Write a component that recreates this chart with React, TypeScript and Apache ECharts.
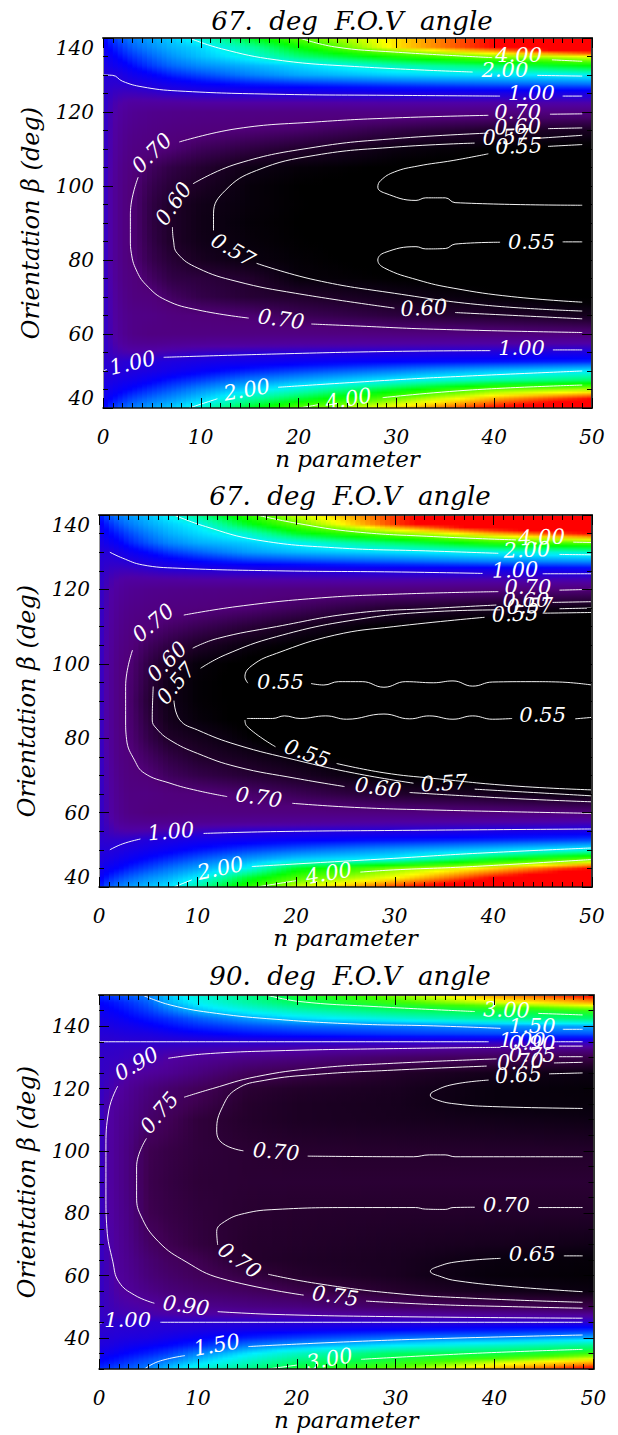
import React, { useEffect, useRef } from "react";
import * as echarts from "echarts";

// ---- shared columns of the colour field (n parameter) ----
const nColumns = [0, 1, 2, 3, 5, 7, 10, 15, 20, 30, 40, 50];

// ---- panel 1: 67 deg ----
const title1 = "67.  deg  F.O.V  angle";
const betas1 = [40, 42.5, 45, 47.5, 50, 52.5, 55, 57.5, 60, 65, 70, 75, 80, 85, 90, 95, 100, 105, 110, 115, 120, 122.5, 125, 127.5, 130, 132.5, 135, 137.5, 140];
const field1 = [
  [1.2, 1.35, 1.45, 1.55, 1.7, 1.85, 2.2, 3, 4, 5.2, 7, 9],
  [1.12, 1.22, 1.3, 1.38, 1.5, 1.62, 1.85, 2.4, 2.9, 4.1, 5.6, 7],
  [1.07, 1.12, 1.17, 1.22, 1.32, 1.42, 1.6, 1.9, 2.2, 3, 4.1, 4.5],
  [1.03, 1.05, 1.08, 1.1, 1.17, 1.25, 1.35, 1.55, 1.7, 2.02, 2.4, 2.7],
  [1, 1, 1.01, 1.02, 1.05, 1.1, 1.17, 1.28, 1.37, 1.55, 1.8, 2],
  [0.98, 0.96, 0.98, 1, 1.01, 1.03, 1.06, 1.1, 1.14, 1.2, 1.25, 1.3],
  [0.97, 0.91, 0.88, 0.87, 0.88, 0.9, 0.93, 0.97, 0.99, 1.01, 1.03, 1.05],
  [0.97, 0.88, 0.82, 0.79, 0.78, 0.79, 0.8, 0.81, 0.82, 0.83, 0.84, 0.85],
  [0.97, 0.86, 0.79, 0.75, 0.73, 0.73, 0.73, 0.73, 0.73, 0.72, 0.715, 0.705],
  [0.97, 0.85, 0.78, 0.75, 0.74, 0.72, 0.705, 0.69, 0.655, 0.625, 0.603, 0.585],
  [0.97, 0.84, 0.76, 0.725, 0.71, 0.67, 0.64, 0.615, 0.605, 0.58, 0.56, 0.545],
  [0.97, 0.83, 0.745, 0.72, 0.67, 0.635, 0.625, 0.605, 0.565, 0.555, 0.545, 0.54],
  [0.97, 0.82, 0.74, 0.7, 0.645, 0.615, 0.59, 0.57, 0.56, 0.548, 0.54, 0.54],
  [0.97, 0.82, 0.735, 0.695, 0.635, 0.6, 0.58, 0.565, 0.556, 0.55, 0.55, 0.55],
  [0.97, 0.82, 0.735, 0.695, 0.63, 0.6, 0.578, 0.562, 0.555, 0.552, 0.551, 0.551],
  [0.97, 0.82, 0.735, 0.695, 0.632, 0.6, 0.58, 0.565, 0.556, 0.55, 0.55, 0.55],
  [0.97, 0.82, 0.74, 0.7, 0.645, 0.617, 0.595, 0.565, 0.555, 0.548, 0.54, 0.54],
  [0.97, 0.83, 0.75, 0.715, 0.665, 0.635, 0.61, 0.575, 0.563, 0.552, 0.545, 0.54],
  [0.97, 0.84, 0.77, 0.735, 0.715, 0.695, 0.66, 0.63, 0.605, 0.57, 0.555, 0.545],
  [0.97, 0.85, 0.79, 0.76, 0.74, 0.725, 0.715, 0.695, 0.68, 0.635, 0.6, 0.59],
  [0.97, 0.87, 0.82, 0.79, 0.77, 0.76, 0.75, 0.745, 0.74, 0.74, 0.73, 0.72],
  [0.98, 0.89, 0.85, 0.83, 0.83, 0.83, 0.84, 0.85, 0.85, 0.86, 0.86, 0.87],
  [0.98, 0.93, 0.91, 0.91, 0.93, 0.96, 0.985, 1, 1.02, 1.04, 1.05, 1.06],
  [0.99, 0.97, 0.98, 1, 1.05, 1.1, 1.17, 1.25, 1.3, 1.38, 1.45, 1.5],
  [1, 1, 1.05, 1.1, 1.18, 1.28, 1.38, 1.55, 1.7, 1.87, 1.95, 2.05],
  [1.05, 1.1, 1.15, 1.22, 1.35, 1.47, 1.6, 1.75, 1.9, 2.3, 2.7, 3.2],
  [1.1, 1.17, 1.25, 1.33, 1.47, 1.62, 1.8, 2.1, 2.6, 3.4, 4.3, 5],
  [1.15, 1.25, 1.35, 1.45, 1.6, 1.75, 1.9, 2.4, 3.2, 5.2, 7, 10],
  [1.2, 1.35, 1.45, 1.55, 1.7, 1.85, 2.2, 3, 4, 5.2, 7, 9],
];
const contours1 = [
  [[20.1, 140], [23.7, 137.6], [29.8, 136.2], [39.8, 134.7]],
  [[45.9, 134.1], [49, 133.7]],
  [[8.8, 140], [12.1, 137.1], [17.7, 134.1], [25.7, 132.3], [37.8, 130.8]],
  [[44.4, 129.9], [49, 129.7]],
  [[0, 130], [1, 129.9], [2, 128.3], [4, 126.8], [7.6, 125.7], [17.7, 124.8], [29.8, 124.5], [40.6, 124.3]],
  [[47, 124.3], [49, 124.3]],
  [[45.7, 119.4], [49, 119.5]],
  [[39.4, 119.1], [29.8, 118.4], [21.7, 117.3], [13.7, 115.5], [7.8, 111.9]],
  [[3.6, 102.4], [2.8, 92.5], [2.8, 85.4], [2.9, 81.8], [3.4, 77.3], [4.4, 73.3], [6.4, 69.2], [9.7, 66.5], [14.9, 64.3]],
  [[21.3, 62.7], [25.7, 62.2], [33.8, 61.3], [49, 60.4]],
  [[45.5, 115.5], [49, 115.7]],
  [[39.4, 114.3], [29.8, 112.8], [21.7, 110.5], [13.7, 106], [9.2, 100.6]],
  [[7.1, 88.9], [7.2, 85.4], [7.6, 81.8], [9.7, 77.8], [13.7, 74.2], [19.7, 71], [29.8, 67]],
  [[36, 65.8], [49, 64.1]],
  [[44.5, 112.9], [49, 113.7]],
  [[38, 111.6], [29.8, 110.5], [21.7, 108.3], [15.7, 104.2], [12.5, 98.8], [11.3, 92.5], [11.3, 88]],
  [[15.7, 79.1], [21.7, 74.6], [29.8, 71], [39, 67.8], [49, 66.2]],
  [[45.5, 110.7], [49, 111.2]],
  [[39.4, 108.7], [35.8, 106.9], [32.2, 105.4], [29.8, 103.8], [28.4, 101.5], [28.1, 99.7], [28.8, 98.1], [32, 96.1], [33, 96.8], [35, 96.8], [36, 95.5], [49, 94.8]],
  [[47, 84.9], [49, 84.9]],
  [[40.6, 84.8], [36, 84.3], [35, 83.1], [33, 83], [32, 83.6], [28.8, 82], [28.1, 80], [28.8, 77.8], [32.2, 74.6], [35.8, 72.4], [41.8, 70.1], [49, 68.6]],
  [[46, 55.7], [49, 55.7]],
  [[39.6, 55.5], [29.8, 55.3], [17.7, 54.6], [6.2, 53.7]],
  [[0, 50], [0.4, 50.4]],
  [[49, 50], [37.8, 48.7], [29.8, 47.6], [17.9, 45.6]],
  [[11.7, 42.5], [8.8, 40]],
  [[49, 46.2], [37.8, 44.9], [28.6, 42.8]],
  [[22, 40.9], [20.1, 40]],
];
const labels1: [number, number, string, number][] = [
  [42.5, 135.4, "4.00", 0], [41.1, 131.3, "2.00", 0], [43.8, 125.1, "1.00", 0], [42.4, 120, "0.70", 0],
  [42.4, 116, "0.60", 2], [41.2, 113.2, "0.57", 2], [42.5, 110.8, "0.55", 2],
  [5, 108.9, "0.70", 45], [7.2, 95.2, "0.60", 55], [13.3, 82.7, "0.57", -30], [43.8, 85, "0.55", 0],
  [18.2, 64, "0.70", -8], [32.8, 67, "0.60", 3], [42.8, 56.2, "1.00", 0], [3, 52.2, "1.00", 13],
  [14.7, 44.9, "2.00", 10], [25.1, 42.4, "4.00", 10],
];

// ---- panel 2: 67 deg ----
const title2 = "67.  deg  F.O.V  angle";
const betas2 = betas1;
const field2 = [
  [1.25, 1.45, 1.55, 1.65, 1.8, 1.95, 2.4, 3.5, 4.7, 6.5, 9, 12],
  [1.15, 1.28, 1.37, 1.45, 1.6, 1.72, 2, 2.9, 3.8, 5, 7, 9],
  [1.08, 1.15, 1.2, 1.27, 1.38, 1.5, 1.68, 2.05, 3, 4.2, 5.3, 7],
  [1.03, 1.06, 1.1, 1.14, 1.22, 1.3, 1.43, 1.65, 1.85, 2.05, 3, 4],
  [1, 1, 1.02, 1.05, 1.1, 1.15, 1.23, 1.35, 1.45, 1.65, 1.85, 2.1],
  [0.98, 0.96, 0.97, 0.98, 1.02, 1.05, 1.09, 1.14, 1.18, 1.25, 1.32, 1.4],
  [0.97, 0.91, 0.87, 0.86, 0.87, 0.89, 0.93, 0.98, 0.998, 1.01, 1.05, 1.07],
  [0.97, 0.88, 0.81, 0.78, 0.77, 0.77, 0.78, 0.79, 0.8, 0.83, 0.85, 0.87],
  [0.97, 0.86, 0.78, 0.74, 0.72, 0.72, 0.725, 0.725, 0.725, 0.72, 0.71, 0.7],
  [0.97, 0.85, 0.77, 0.73, 0.73, 0.715, 0.705, 0.685, 0.655, 0.605, 0.585, 0.564],
  [0.97, 0.84, 0.755, 0.72, 0.7, 0.665, 0.64, 0.615, 0.595, 0.55, 0.54, 0.53],
  [0.97, 0.83, 0.74, 0.71, 0.67, 0.635, 0.605, 0.585, 0.565, 0.535, 0.52, 0.515],
  [0.97, 0.82, 0.735, 0.7, 0.64, 0.6, 0.585, 0.56, 0.53, 0.52, 0.51, 0.51],
  [0.97, 0.82, 0.73, 0.695, 0.625, 0.585, 0.565, 0.55, 0.54, 0.54, 0.54, 0.54],
  [0.97, 0.82, 0.73, 0.69, 0.615, 0.58, 0.56, 0.552, 0.552, 0.552, 0.552, 0.552],
  [0.97, 0.82, 0.73, 0.695, 0.625, 0.58, 0.56, 0.55, 0.54, 0.54, 0.54, 0.54],
  [0.97, 0.82, 0.735, 0.7, 0.635, 0.595, 0.565, 0.55, 0.53, 0.52, 0.51, 0.51],
  [0.97, 0.83, 0.75, 0.715, 0.665, 0.635, 0.6, 0.57, 0.555, 0.53, 0.52, 0.515],
  [0.97, 0.84, 0.77, 0.735, 0.705, 0.68, 0.655, 0.62, 0.59, 0.55, 0.535, 0.525],
  [0.97, 0.85, 0.79, 0.76, 0.74, 0.725, 0.715, 0.695, 0.665, 0.61, 0.59, 0.57],
  [0.97, 0.87, 0.82, 0.79, 0.77, 0.76, 0.75, 0.74, 0.73, 0.72, 0.71, 0.7],
  [0.98, 0.89, 0.85, 0.83, 0.83, 0.83, 0.84, 0.85, 0.86, 0.87, 0.87, 0.88],
  [0.98, 0.93, 0.91, 0.91, 0.94, 0.97, 0.985, 0.995, 1, 1.04, 1.06, 1.09],
  [0.99, 0.97, 0.98, 1, 1.06, 1.12, 1.2, 1.3, 1.35, 1.45, 1.55, 1.6],
  [1, 1, 1.06, 1.12, 1.22, 1.33, 1.45, 1.65, 1.77, 1.93, 2.1, 2.25],
  [1.05, 1.12, 1.18, 1.27, 1.42, 1.57, 1.72, 1.85, 2.05, 2.7, 3.5, 4],
  [1.1, 1.2, 1.28, 1.38, 1.55, 1.72, 1.9, 2.2, 3, 4.2, 5.6, 7],
  [1.15, 1.3, 1.42, 1.52, 1.7, 1.85, 2.05, 3, 4, 6.5, 9, 11],
  [1.25, 1.45, 1.55, 1.65, 1.8, 2.03, 2.5, 3.6, 4.7, 6.5, 9, 12],
];
const contours2 = [
  [[16, 140], [20, 137.8], [25.9, 135.5], [33.9, 134.2], [42.3, 133.3]],
  [[48.1, 132.7], [50, 132.6]],
  [[7.6, 140], [10.8, 136.9], [16, 133.3], [23.9, 131.2], [33.9, 130.3], [40.5, 129.7]],
  [[46.7, 129.4], [50, 129.3]],
  [[1.1, 130], [2.4, 128.4], [4.4, 126.6], [8, 125.7], [18, 125], [29.9, 124.7], [38.9, 124.3]],
  [[45, 124.2], [50, 124.2]],
  [[46.7, 119.8], [50, 120]],
  [[40.5, 119.4], [29.9, 118.7], [21.9, 117.6], [14, 115.4], [8.6, 113.1]],
  [[3.4, 103.7], [2.7, 93.9], [2.7, 84.9], [2.8, 79.6], [3.6, 74.1], [4.6, 70.6], [7.2, 67.9], [10, 65.9], [13, 64.3]],
  [[19.6, 62.5], [25.9, 61.4], [33.9, 60.7], [50, 59.8]],
  [[46, 116.5], [50, 116.7]],
  [[40.3, 115.8], [33.9, 114.9], [25.9, 113.6], [18, 110], [12, 106.8], [9.5, 104.2]],
  [[5.5, 93.9], [5.4, 84.9], [5.8, 82.7], [7.2, 79.5], [10, 75.9], [14, 72.3], [20, 69.2], [24.9, 67]],
  [[31.5, 65.4], [41.9, 63.8], [50, 62.9]],
  [[46.7, 114.8], [50, 115]],
  [[40.7, 114.5], [33.9, 114], [25.9, 111.8], [18, 107.3], [12.8, 102.4], [10.3, 98.8]],
  [[7.6, 90.1], [8.2, 84.9], [10, 82.2], [14, 78.2], [20, 74.1], [25.9, 70.6], [31.9, 67.9]],
  [[38.1, 66.3], [50, 64.5]],
  [[45, 113.6], [50, 113.8]],
  [[39.1, 112.5], [29.9, 110], [23.9, 107.7], [18, 102.8], [15.6, 99.7], [14.8, 96.5], [15.1, 94.8]],
  [[21.5, 94.7], [22.8, 94.3], [24.3, 95.2], [26.7, 95.2], [28.9, 93.7], [31.1, 95.2], [33.9, 94.9], [35.9, 95.4], [37.9, 94], [39.9, 95.1], [43.9, 95.2], [46.7, 95.1], [50, 94.3]],
  [[15, 85.3], [17.6, 85.3], [18.8, 86], [20.4, 85.3], [23, 86], [25.1, 85.1], [28.9, 86.5], [31.5, 85.2], [33.5, 86], [35.9, 85.1], [37.9, 86], [39.9, 85.1], [41.9, 85.3]],
  [[48.3, 85.2], [50, 85.6]],
  [[14.8, 84.9], [15, 83.2], [17.9, 77.7]],
  [[24.1, 73.2], [28.9, 70.7], [33.9, 69.2], [41.9, 67.2], [50, 66.1]],
  [[50, 55.6], [29.9, 55.2], [18, 54.9], [10.6, 54.4]],
  [[4.2, 52.9], [2.4, 51.6], [1.1, 50]],
  [[50, 50.5], [37.9, 49], [29.9, 47.7], [23.9, 46.8], [15.5, 45.5]],
  [[9.4, 41.9], [7.6, 40]],
  [[50, 47.4], [37.9, 45.5], [29.9, 44.6], [26.5, 44]],
  [[20, 41.7], [16, 40]],
];
const labels2: [number, number, string, number][] = [
  [44.9, 134, "4.00", 2], [43.4, 130.6, "2.00", 2], [42.2, 125.2, "1.00", 2], [43.5, 120.6, "0.70", 0],
  [43.3, 117.2, "0.60", 0], [43.7, 115.5, "0.57", 2], [42.2, 113.4, "0.55", 2],
  [5.5, 111, "0.70", 40], [6.9, 100.6, "0.60", 45], [7.8, 94.7, "0.57", 50], [18.4, 95, "0.55", 0],
  [45, 86.2, "0.55", 0], [21.1, 75.9, "0.55", -20], [28.3, 66.7, "0.60", -8], [35, 67.9, "0.57", 3],
  [16.2, 64.1, "0.70", -8], [7.3, 54.9, "1.00", 5], [12.3, 45, "2.00", 12], [23.3, 43.7, "4.00", 10],
];

// ---- panel 3: 90 deg ----
const title3 = "90.  deg  F.O.V  angle";
const betas3 = [30, 32.5, 35, 37.5, 40, 42.5, 45, 47.5, 50, 55, 60, 65, 70, 80, 90, 100, 110, 115, 120, 125, 130, 132.5, 135, 137.5, 140, 142.5, 145, 147.5, 150];
const field3 = [
  [1.25, 1.3, 1.35, 1.4, 1.52, 1.75, 2.1, 2.6, 3.3, 3.9, 5, 6.2],
  [1.15, 1.18, 1.22, 1.27, 1.37, 1.5, 1.75, 2.2, 2.7, 3.3, 4.1, 4.8],
  [1.08, 1.1, 1.13, 1.16, 1.22, 1.3, 1.5, 1.85, 2.2, 2.85, 3.05, 3.6],
  [1.04, 1.05, 1.07, 1.09, 1.12, 1.16, 1.25, 1.48, 1.62, 1.9, 2.2, 2.55],
  [1.02, 1.02, 1.03, 1.04, 1.05, 1.08, 1.12, 1.22, 1.3, 1.45, 1.52, 1.65],
  [1, 1, 1.01, 1.01, 1.02, 1.03, 1.05, 1.08, 1.1, 1.15, 1.2, 1.25],
  [0.99, 0.99, 0.995, 0.995, 1, 1, 1, 1, 1, 1, 1, 1],
  [0.98, 0.96, 0.95, 0.94, 0.93, 0.92, 0.91, 0.905, 0.9, 0.885, 0.88, 0.875],
  [0.98, 0.95, 0.93, 0.92, 0.905, 0.88, 0.86, 0.84, 0.83, 0.78, 0.755, 0.735],
  [0.98, 0.94, 0.9, 0.885, 0.85, 0.82, 0.795, 0.77, 0.74, 0.695, 0.665, 0.648],
  [0.98, 0.93, 0.89, 0.87, 0.82, 0.79, 0.76, 0.725, 0.695, 0.675, 0.64, 0.63],
  [0.98, 0.925, 0.885, 0.86, 0.805, 0.77, 0.745, 0.695, 0.685, 0.675, 0.648, 0.635],
  [0.98, 0.92, 0.88, 0.85, 0.78, 0.745, 0.72, 0.695, 0.69, 0.68, 0.67, 0.66],
  [0.98, 0.91, 0.87, 0.84, 0.745, 0.73, 0.715, 0.7, 0.695, 0.692, 0.69, 0.69],
  [0.98, 0.905, 0.865, 0.83, 0.74, 0.725, 0.71, 0.705, 0.705, 0.705, 0.705, 0.705],
  [0.98, 0.905, 0.865, 0.83, 0.745, 0.73, 0.715, 0.703, 0.697, 0.695, 0.692, 0.69],
  [0.98, 0.91, 0.87, 0.85, 0.79, 0.755, 0.715, 0.692, 0.68, 0.672, 0.662, 0.655],
  [0.98, 0.91, 0.885, 0.86, 0.81, 0.775, 0.74, 0.695, 0.68, 0.67, 0.645, 0.64],
  [0.98, 0.94, 0.905, 0.875, 0.83, 0.795, 0.76, 0.705, 0.69, 0.675, 0.645, 0.635],
  [0.98, 0.96, 0.94, 0.91, 0.89, 0.87, 0.83, 0.765, 0.735, 0.69, 0.665, 0.65],
  [0.98, 0.975, 0.97, 0.96, 0.95, 0.905, 0.88, 0.855, 0.84, 0.79, 0.76, 0.735],
  [0.985, 0.985, 0.98, 0.97, 0.96, 0.95, 0.94, 0.925, 0.91, 0.89, 0.85, 0.84],
  [0.995, 0.995, 0.995, 1, 1, 1, 1, 1, 1, 1, 1, 1],
  [1.02, 1.02, 1.03, 1.04, 1.05, 1.08, 1.12, 1.18, 1.22, 1.28, 1.33, 1.37],
  [1.04, 1.05, 1.07, 1.08, 1.12, 1.17, 1.25, 1.35, 1.42, 1.47, 1.55, 1.65],
  [1.07, 1.09, 1.11, 1.14, 1.2, 1.27, 1.4, 1.6, 1.8, 2.1, 2.5, 2.8],
  [1.1, 1.13, 1.16, 1.2, 1.3, 1.45, 1.7, 2, 2.3, 2.8, 3.2, 3.6],
  [1.15, 1.18, 1.22, 1.27, 1.4, 1.65, 1.95, 2.4, 2.9, 3.6, 4.3, 5],
  [1.25, 1.3, 1.35, 1.4, 1.52, 1.75, 2.1, 2.6, 3.3, 4, 5.2, 6.2],
];
const contours3 = [
  [[16.9, 150], [20.3, 147.9], [27.8, 146.3], [38, 144.7]],
  [[44.4, 144.1], [48.9, 143.6]],
  [[4.4, 150], [7.2, 146.8], [11.9, 144.1], [17.9, 142.2], [25.9, 140.7], [33.8, 140.1], [40.6, 139.3]],
  [[46.9, 139], [48.9, 139]],
  [[0, 135], [39.4, 135]],
  [[46, 135], [48.9, 135]],
  [[46.5, 133.6], [48.9, 133.6]],
  [[40.6, 133.2], [29.8, 132.8], [17.9, 132.1], [10.7, 131.1], [7, 129.7]],
  [[1.9, 120.8], [1, 113.1], [0.7, 100.3], [0.7, 85.8], [0.8, 75.1], [1.4, 64.4], [2, 58], [3.6, 53.7], [5.6, 51.1]],
  [[12, 48.4], [17.9, 47.5], [29.8, 46.8], [48.9, 46.3]],
  [[46.5, 130.2], [48.9, 130.2]],
  [[40.2, 129.5], [29.8, 128.1], [21.9, 126.5], [15.9, 123.8], [11.5, 120], [8.6, 117.2]],
  [[4.8, 104], [3.8, 94.9], [3.8, 85.8], [4.2, 79.4], [6, 70.9], [8.8, 64.4], [12.3, 59.1], [20.7, 53.7]],
  [[27, 51.8], [33.8, 50.7], [41.8, 50], [48.9, 49.5]],
  [[46, 128.2], [48.9, 128.4]],
  [[39.2, 127.2], [29.8, 125.9], [21.9, 124.5], [16.7, 122.6], [13.9, 119.8], [12.5, 114.2], [11.9, 106.7], [12.5, 102.4], [14.6, 100]],
  [[21.1, 98.3], [31.8, 98.1], [33.4, 98.7], [35, 98.7], [36, 98.1], [48.9, 98.1]],
  [[44.4, 81.8], [48.9, 81.8]],
  [[38, 81.9], [35.8, 81.8], [35, 81.2], [33, 81.3], [32, 81.8], [25.9, 81.8], [17.9, 81.2], [14.7, 79.9], [12.7, 77.3], [11.9, 74.1], [12, 69.8]],
  [[17.1, 60.4], [21.9, 57.5], [29.8, 54.3], [37.8, 52.7], [48.9, 51.4]],
  [[45.5, 124.7], [48.9, 125]],
  [[39.4, 122.7], [35.8, 121.3], [33.8, 119], [33.5, 117.9], [34.2, 116.3], [36.2, 115], [39.8, 114.2], [48.9, 113.6]],
  [[47, 66.3], [48.9, 66.3]],
  [[40.6, 65.5], [36.2, 64.4], [34.2, 62.8], [33.5, 61.4], [34.6, 59.6], [36.2, 58.3], [41.8, 56.4], [48.9, 54.8]],
  [[48.9, 45], [6.2, 45]],
  [[0, 44.7], [0.3, 44.8]],
  [[48.9, 40.9], [29.8, 39.3], [15.1, 37.2]],
  [[8.7, 34.3], [6, 32.4], [4.6, 30]],
  [[48.9, 36.3], [37.8, 35], [26.5, 33.1]],
  [[20.1, 31.3], [17.1, 30]],
];
const labels3: [number, number, string, number][] = [
  [41.2, 145.2, "3.00", -2], [43.8, 140, "1.50", 0], [42.8, 135.6, "1.00", 0], [43.8, 134.7, "0.90", 0],
  [43.8, 130.8, "0.75", 0], [42.6, 128.6, "0.70", 3], [42.4, 124.3, "0.65", 3],
  [3.8, 127.9, "0.90", 30], [6.1, 112.2, "0.75", 50], [17.9, 99.7, "0.70", -5], [41.2, 82.6, "0.70", 0],
  [43.8, 66.8, "0.65", 0], [14.2, 64.8, "0.70", -35], [23.9, 53.4, "0.75", -8], [8.8, 50.3, "0.90", -8],
  [2.9, 45.7, "1.00", 0], [11.9, 37.7, "1.50", 10], [23.3, 33.2, "3.00", 10],
];

const betaTicks = [40, 60, 80, 100, 120, 140];

// ---- colour scale: value -> colour, one table per panel ----
const colourStops67: [number, string][] = [
  [0.5, "#000000"], [0.555, "#000000"], [0.57, "#0a0010"], [0.6, "#1e0028"], [0.7, "#500078"], [0.85, "#5000a4"],
  [1, "#2400d8"], [1.2, "#0000ff"], [1.5, "#0070ff"], [2, "#00f0ff"], [2.5, "#00ff90"], [3.2, "#00ff00"],
  [4, "#60ff00"], [5, "#ffff00"], [5.8, "#ff9000"], [7, "#ff0000"],
];
const colourStops90: [number, string][] = [
  [0.62, "#000000"], [0.65, "#0a0010"], [0.7, "#280030"], [0.75, "#400054"], [0.9, "#5000a0"], [1, "#2a00d0"],
  [1.15, "#0000ff"], [1.5, "#0080ff"], [1.9, "#00f0ff"], [3, "#00ff50"], [3.7, "#40ff00"], [4.5, "#ffff00"],
  [5.2, "#ff9000"], [6, "#ff0000"],
];

const FONT = "DejaVu Serif";
const hex = (h: string) => [parseInt(h.slice(1, 3), 16), parseInt(h.slice(3, 5), 16), parseInt(h.slice(5, 7), 16)];

function colourOf(v: number, stops: [number, string][]) {
  if (v <= stops[0][0]) return stops[0][1];
  for (let i = 1; i < stops.length; i++) {
    if (v <= stops[i][0]) {
      const t = (Math.log(v) - Math.log(stops[i - 1][0])) / (Math.log(stops[i][0]) - Math.log(stops[i - 1][0]));
      const a = hex(stops[i - 1][1]);
      const b = hex(stops[i][1]);
      return `rgb(${a.map((c, k) => Math.round(c + (b[k] - c) * t)).join(",")})`;
    }
  }
  return stops[stops.length - 1][1];
}

// One custom-series item per strip of the colour field: the strip's vertical gradient shades
// between the table's rows, so that the read cells blend as the original image does.
function fieldSeries(idx: number, betas: number[], field: number[][], stops: [number, string][]) {
  const bMin = betas[0];
  const bMax = betas[betas.length - 1];
  const strips: number[][] = [];
  for (let k = 0; k < nColumns.length - 1; k++) {
    const cnt = Math.max(2, Math.ceil((nColumns[k + 1] - nColumns[k]) * 2));
    for (let s = 0; s < cnt; s++) {
      const d = (nColumns[k + 1] - nColumns[k]) / cnt;
      strips.push([nColumns[k] + s * d, nColumns[k] + (s + 1) * d, bMin, bMax, k, (s + 0.5) / cnt]);
    }
  }
  const renderItem = (params: any, api: any) => {
    const row = strips[params.dataIndex];
    const p0 = api.coord([row[0], bMax]);
    const p1 = api.coord([row[1], bMin]);
    const k = row[4];
    const t = row[5];
    const colStops: { offset: number; color: string }[] = [];
    const at = (r: number) => Math.log(field[r][k]) * (1 - t) + Math.log(field[r][k + 1]) * t;
    for (let r = betas.length - 1; r > 0; r--) {
      const top = at(r);
      const bot = at(r - 1);
      for (let m = 0; m < 3; m++) {
        const q = m / 3;
        colStops.push({
          offset: (bMax - (betas[r] + (betas[r - 1] - betas[r]) * q)) / (bMax - bMin),
          color: colourOf(Math.exp(top + (bot - top) * q), stops),
        });
      }
    }
    colStops.push({ offset: 1, color: colourOf(Math.exp(at(0)), stops) });
    return {
      type: "rect",
      shape: { x: p0[0], y: p0[1], width: p1[0] - p0[0] + 1, height: p1[1] - p0[1] },
      style: { fill: new echarts.graphic.LinearGradient(0, 0, 0, 1, colStops) },
    };
  };
  return {
    type: "custom",
    xAxisIndex: idx * 2,
    yAxisIndex: idx * 4,
    silent: true,
    clip: true,
    z: 1,
    encode: { x: [0, 1], y: [2, 3] },
    data: strips,
    renderItem,
  };
}

function axesFor(idx: number, bMin: number, bMax: number, edgeLabels: boolean) {
  const minors: number[] = [];
  for (let b = bMin; b <= bMax; b += 5) minors.push(b);
  const common = { min: 0, max: 50, interval: 10, type: "value", gridIndex: idx, z: 10, splitLine: { show: false } };
  const xAxes = [
    {
      ...common,
      position: "bottom",
      axisLine: { show: true, onZero: false, lineStyle: { color: "#111", width: 1.5 } },
      axisTick: { show: true, inside: true, length: 10, lineStyle: { color: "#000", width: 1 } },
      minorTick: { show: true, splitNumber: 10, length: 5, lineStyle: { color: "#000", width: 1 } },
      axisLabel: { show: true, margin: 19, color: "#000", fontFamily: FONT, fontStyle: "italic", fontSize: 20 },
      name: "n parameter",
      nameLocation: "middle",
      nameGap: 38,
      nameTextStyle: { color: "#000", fontFamily: FONT, fontStyle: "italic", fontSize: 23 },
    },
    {
      ...common,
      position: "top",
      axisLine: { show: true, onZero: false, lineStyle: { color: "#333", width: 2 } },
      axisTick: { show: true, inside: true, length: 10, lineStyle: { color: "#000", width: 1 } },
      minorTick: { show: true, splitNumber: 10, length: 5, lineStyle: { color: "#000", width: 1 } },
      axisLabel: { show: false },
    },
  ];
  const yc = { type: "value", min: bMin, max: bMax, gridIndex: idx, z: 10, splitLine: { show: false } };
  const yAxes = [
    {
      ...yc,
      position: "left",
      ...(edgeLabels ? { interval: 20 } : {}),
      axisLine: { show: true, onZero: false, lineStyle: { color: "#999", width: 1 } },
      axisTick: { show: true, inside: true, length: 10, customValues: betaTicks, lineStyle: { color: "#000", width: 1 } },
      axisLabel: {
        show: true,
        ...(edgeLabels ? { verticalAlignMinLabel: "bottom", verticalAlignMaxLabel: "top" } : { customValues: betaTicks }),
        margin: 9,
        color: "#000",
        fontFamily: FONT,
        fontStyle: "italic",
        fontSize: 20,
      },
      name: "Orientation β (deg)",
      nameLocation: "middle",
      nameRotate: 90,
      nameGap: 60,
      nameTextStyle: { color: "#000", fontFamily: FONT, fontStyle: "italic", fontSize: 24 },
    },
    {
      ...yc,
      position: "left",
      axisLine: { show: false, onZero: false },
      axisTick: { show: true, inside: true, length: 5, customValues: minors, lineStyle: { color: "#000", width: 1 } },
      axisLabel: { show: false },
    },
    {
      ...yc,
      position: "right",
      axisLine: { show: true, onZero: false, lineStyle: { color: "#333", width: 2 } },
      axisTick: { show: true, inside: true, length: 10, customValues: betaTicks, lineStyle: { color: "#000", width: 1 } },
      axisLabel: { show: false },
    },
    {
      ...yc,
      position: "right",
      axisLine: { show: false, onZero: false },
      axisTick: { show: true, inside: true, length: 5, customValues: minors, lineStyle: { color: "#000", width: 1 } },
      axisLabel: { show: false },
    },
  ];
  return { xAxes, yAxes };
}

function contourSeries(idx: number, contours: number[][][], labels: [number, number, string, number][]) {
  const lines = contours.map((seg) => ({
    type: "line",
    xAxisIndex: idx * 2,
    yAxisIndex: idx * 4,
    data: seg,
    showSymbol: false,
    smooth: 0.45,
    silent: true,
    z: 3,
    lineStyle: { color: "#ffffff", width: 1, opacity: 0.95 },
  }));
  const texts = {
    type: "scatter",
    xAxisIndex: idx * 2,
    yAxisIndex: idx * 4,
    symbolSize: 1,
    silent: true,
    z: 4,
    itemStyle: { color: "rgba(0,0,0,0)", opacity: 1 },
    data: labels.map((l) => ({
      value: [l[0], l[1]],
      label: {
        show: true,
        formatter: l[2],
        rotate: l[3],
        position: "inside",
        align: "center",
        verticalAlign: "middle",
        color: "#ffffff",
        opacity: 1,
        fontFamily: FONT,
        fontStyle: "italic",
        fontSize: 21,
      },
    })),
  };
  return [...lines, texts];
}

export default function App() {
  const ref = useRef<HTMLDivElement>(null);
  useEffect(() => {
    const chart = echarts.init(ref.current!, undefined, { renderer: "svg" });
    const ax1 = axesFor(0, 40, 140, true);
    const ax2 = axesFor(1, 40, 140, true);
    const ax3 = axesFor(2, 30, 150, false);
    const titleStyle = { color: "#000", fontFamily: FONT, fontStyle: "italic", fontWeight: "normal", fontSize: 26 };
    chart.setOption({
      animation: false,
      backgroundColor: "#ffffff",
      title: [
        { text: title1, left: 347, top: 3, textAlign: "center", textStyle: titleStyle },
        { text: title2, left: 345, top: 478, textAlign: "center", textStyle: titleStyle },
        { text: title3, left: 345, top: 958, textAlign: "center", textStyle: titleStyle },
      ],
      grid: [
        { left: 103, top: 38, width: 489, height: 370 },
        { left: 99, top: 515, width: 493, height: 372 },
        { left: 99, top: 995, width: 494.5, height: 374 },
      ],
      xAxis: [...ax1.xAxes, ...ax2.xAxes, ...ax3.xAxes],
      yAxis: [...ax1.yAxes, ...ax2.yAxes, ...ax3.yAxes],
      series: [
        fieldSeries(0, betas1, field1, colourStops67),
        fieldSeries(1, betas2, field2, colourStops67),
        fieldSeries(2, betas3, field3, colourStops90),
        ...contourSeries(0, contours1, labels1),
        ...contourSeries(1, contours2, labels2),
        ...contourSeries(2, contours3, labels3),
      ],
    });
    return () => chart.dispose();
  }, []);
  return <div ref={ref} style={{ position: "absolute", left: 0, top: 0, width: 618, height: 1435 }} />;
}
